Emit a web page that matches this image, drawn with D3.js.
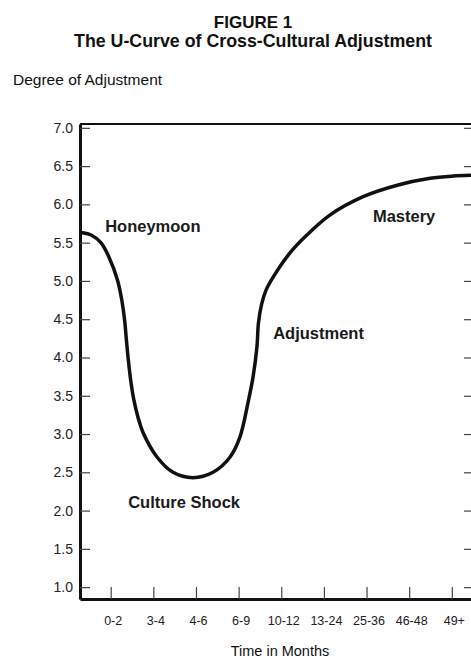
<!DOCTYPE html>
<html>
<head>
<meta charset="utf-8">
<script src="https://cdn.jsdelivr.net/npm/d3@7"></script>
<style>
body { margin: 0; background: #fff; }
svg { display: block; }
.narrow { font-family: "Liberation Sans Narrow", "Liberation Sans", Arial, sans-serif; }
</style>
</head>
<body>
<svg width="471" height="659"></svg>
<script>
// months since arrival (category per tick)
var periods = ["0-2", "3-4", "4-6", "6-9", "10-12", "13-24", "25-36", "46-48", "49+"];
var levelTicks = [1.0, 1.5, 2.0, 2.5, 3.0, 3.5, 4.0, 4.5, 5.0, 5.5, 6.0, 6.5, 7.0];

// the U-curve, x in tick units (0 = "0-2"), y = degree of adjustment
var curveX = [-0.66, -0.46, -0.23, -0.04, 0.16, 0.26, 0.326, 0.368, 0.413, 0.467, 0.542, 0.640,
    0.758, 1.086, 1.46, 1.93, 2.40, 2.80, 3.03, 3.22, 3.34, 3.43, 3.465, 3.537, 3.643, 3.81, 4.21,
    4.60, 5.14, 5.92, 6.72, 7.49, 8.03, 8.43];
var curveY = [5.63, 5.60, 5.50, 5.31, 5.01, 4.75, 4.49, 4.23, 3.97, 3.71, 3.45, 3.22,
    3.02, 2.70, 2.50, 2.43, 2.50, 2.70, 2.96, 3.41, 3.75, 4.14, 4.45, 4.69, 4.88, 5.05, 5.37,
    5.60, 5.86, 6.10, 6.25, 6.34, 6.37, 6.38];

var phaseNames = ["Honeymoon", "Culture Shock", "Adjustment", "Mastery"];
var phaseX = [-0.13, 0.41, 3.81, 6.15];
var phaseY = [5.64, 2.03, 4.24, 5.77];

var svg = d3.select("svg");
var ink = "#111";

var x = d3.scaleLinear()
    .domain([-0.72, 8.45])
    .range([80, 471]);

var y = d3.scaleLinear()
    .domain([0.845, 7.05])
    .range([599, 124]);

// titles
svg.append("text")
    .attr("x", 253).attr("y", 28)
    .attr("text-anchor", "middle")
    .style("font", "bold 17px 'Liberation Sans', Arial, sans-serif")
    .attr("fill", ink)
    .text("FIGURE 1");

svg.append("text")
    .attr("x", 253).attr("y", 47)
    .attr("text-anchor", "middle")
    .style("font", "bold 17.8px 'Liberation Sans', Arial, sans-serif")
    .attr("fill", ink)
    .text("The U-Curve of Cross-Cultural Adjustment");

svg.append("text")
    .attr("x", 13).attr("y", 85)
    .style("font", "15.5px 'Liberation Sans', Arial, sans-serif")
    .attr("fill", ink)
    .text("Degree of Adjustment");

// frame top
svg.append("line")
    .attr("x1", 80).attr("x2", 471)
    .attr("y1", 124).attr("y2", 124)
    .attr("stroke", ink).attr("stroke-width", 2);

var yAxis = d3.axisLeft(y)
    .tickValues(levelTicks)
    .tickFormat(d3.format(".1f"))
    .tickSize(-10)
    .tickSizeOuter(0)
    .tickPadding(7);

var gy = svg.append("g")
    .attr("transform", "translate(80,0)")
    .call(yAxis);

gy.select(".domain").attr("stroke", ink).attr("stroke-width", 3);
gy.selectAll(".tick line").attr("stroke", "#444").attr("stroke-width", 1.2);
gy.selectAll(".tick text")
    .attr("class", "narrow")
    .style("font-size", "14px")
    .attr("fill", "#222");

// small ticks on the right edge
var gr = svg.append("g")
    .attr("transform", "translate(471,0)")
    .call(d3.axisRight(y).tickValues(levelTicks).tickSize(-7).tickFormat(""));
gr.select(".domain").remove();
gr.selectAll(".tick line").attr("stroke", "#444").attr("stroke-width", 1.2);

var xAxis = d3.axisBottom(x)
    .tickValues(d3.range(periods.length))
    .tickFormat(function(d) { return periods[d]; })
    .tickSize(-12)
    .tickSizeOuter(0)
    .tickPadding(17);

var gx = svg.append("g")
    .attr("transform", "translate(0,599)")
    .call(xAxis);

gx.select(".domain").attr("stroke", ink).attr("stroke-width", 3);
gx.selectAll(".tick line").attr("stroke", "#444").attr("stroke-width", 1.2);
gx.selectAll(".tick text")
    .attr("class", "narrow")
    .attr("dx", 2)
    .style("font-size", "12.5px")
    .attr("fill", "#222");

svg.append("text")
    .attr("x", 280).attr("y", 656)
    .attr("text-anchor", "middle")
    .style("font", "14.5px 'Liberation Sans', Arial, sans-serif")
    .attr("fill", ink)
    .text("Time in Months");

// the curve
var pts = curveX.map(function(d, i) { return [d, curveY[i]]; });

var line = d3.line()
    .x(function(d) { return x(d[0]); })
    .y(function(d) { return y(d[1]); })
    .curve(d3.curveCatmullRom.alpha(0.5));

svg.append("path")
    .datum(pts)
    .attr("d", line)
    .attr("fill", "none")
    .attr("stroke", ink)
    .attr("stroke-width", 3.5)
    .attr("stroke-linecap", "round");

// phase labels
svg.selectAll(".phase")
    .data(phaseNames)
    .enter().append("text")
    .attr("class", "phase")
    .attr("x", function(d, i) { return x(phaseX[i]); })
    .attr("y", function(d, i) { return y(phaseY[i]); })
    .style("font", "bold 16.5px 'Liberation Sans', Arial, sans-serif")
    .attr("fill", "#1a1a1a")
    .text(function(d) { return d; });
</script>
</body>
</html>
